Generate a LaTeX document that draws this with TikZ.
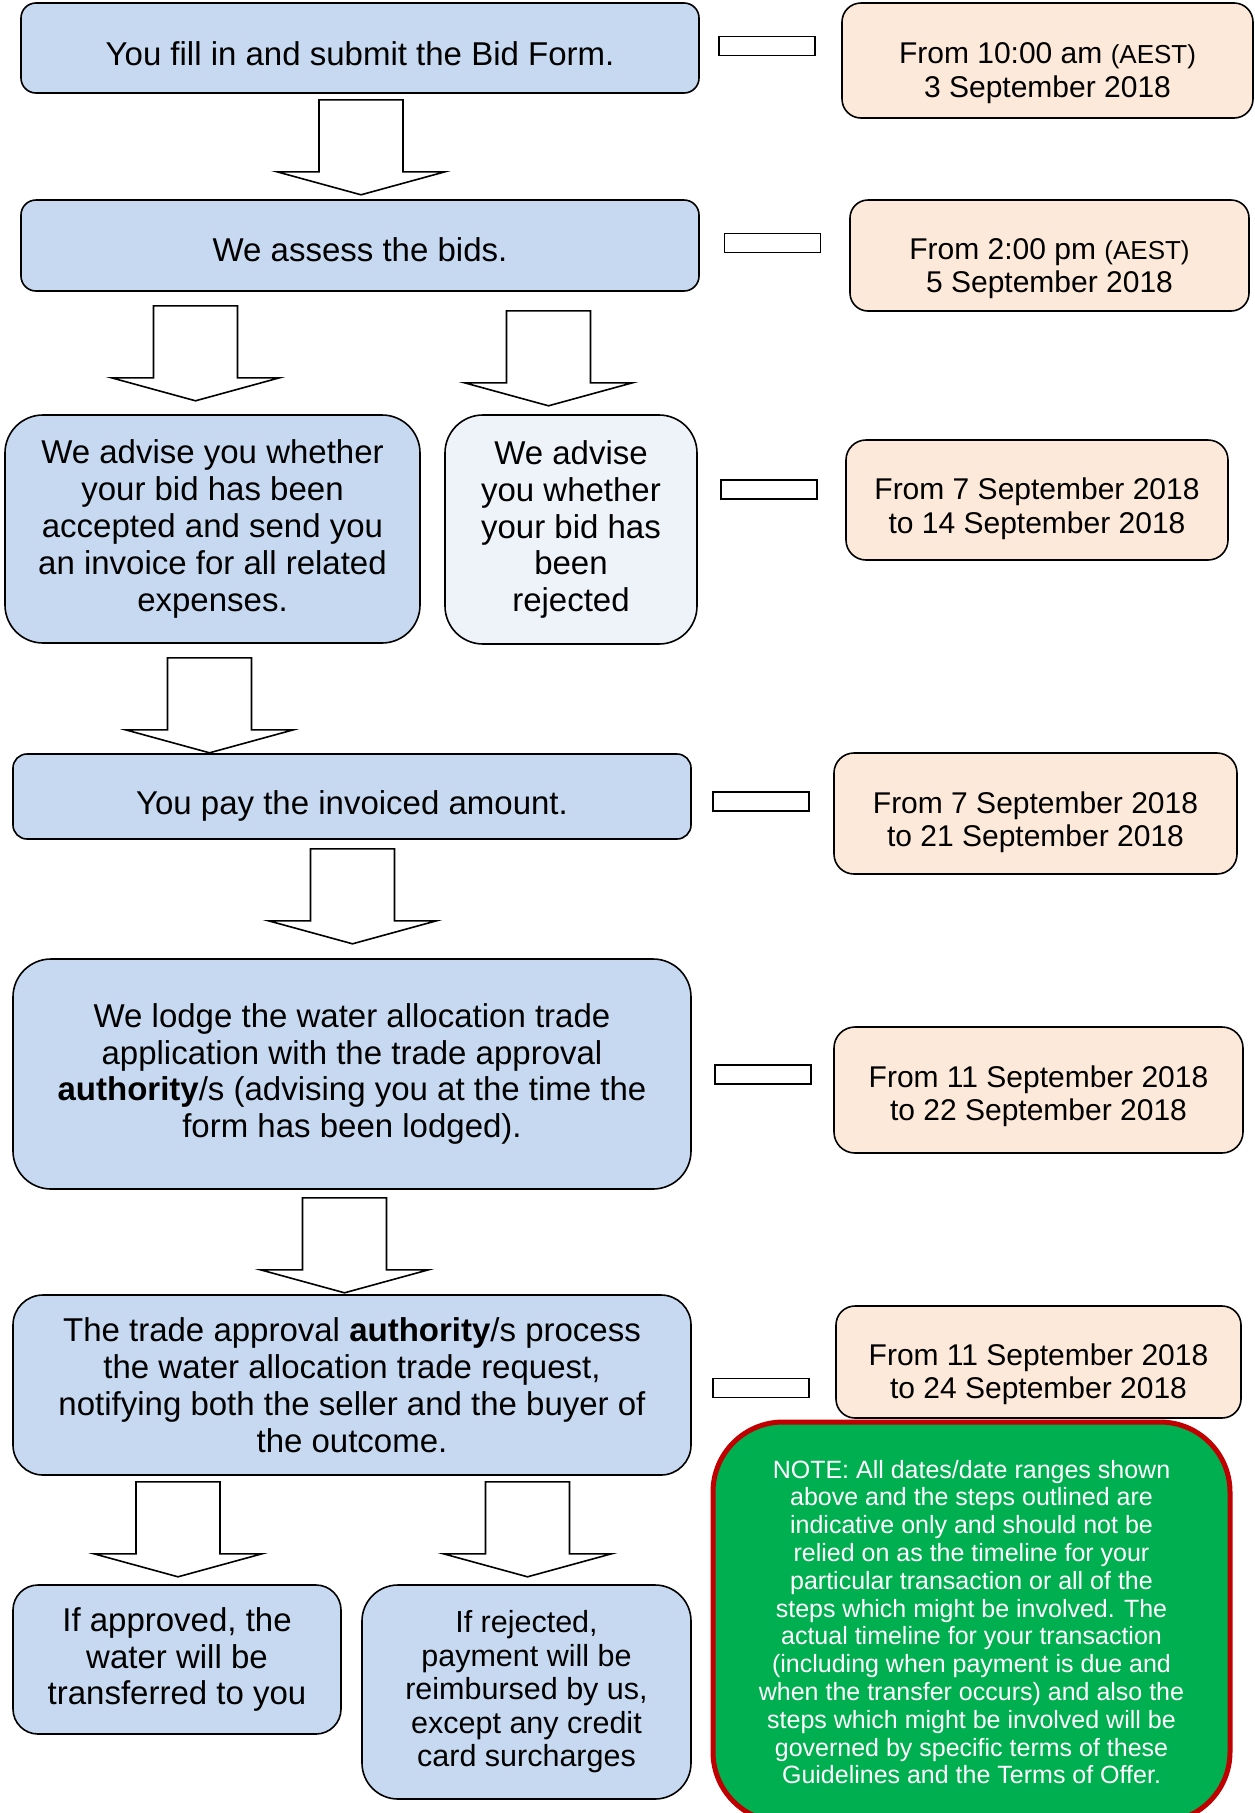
\documentclass[tikz,border=0pt]{standalone}
\usepackage{fontspec}
\setmainfont{Liberation Sans}
\usetikzlibrary{calc}
\definecolor{stepblue}{HTML}{C6D9F0}
\definecolor{stepbluepale}{HTML}{EEF3FA}
\definecolor{datepeach}{HTML}{FDE9D9}
\definecolor{notegreen}{HTML}{00B050}
\definecolor{notered}{HTML}{C00000}
\newcommand\shiftdown[2]{\raisebox{-#1}[\height][\depth]{#2}}
\newcommand\aest{{\fontsize{26}{33.5}\selectfont(AEST)}}
\begin{document}
\begin{tikzpicture}[x=1pt,y=-1pt,
stepbox/.style={draw=black,line width=1.6pt,fill=stepblue,align=center,inner sep=0pt,font=\fontsize{33}{36.8}\selectfont},
datebox/.style={draw=black,line width=1.6pt,fill=datepeach,align=center,inner sep=0pt,font=\fontsize{30}{33.5}\selectfont},
tickbox/.style={draw=black,line width=1.6pt,fill=white,minimum width=96pt,minimum height=19pt,inner sep=0pt},
dnarrow/.pic={\draw[line width=1.6pt,fill=white,line join=miter] (-42,0) -- (42,0) -- (42,72) -- (84,72) -- (0,95) -- (-84,72) -- (-42,72) -- cycle;}]
\useasboundingbox (0,0) rectangle (1255,1813);
\clip (0,0) rectangle (1255,1813);

\node[stepbox,minimum width=678pt,minimum height=90pt,rounded corners=15pt] (bidform) at (360,48) {\shiftdown{5.8pt}{You fill in and submit the Bid Form.}};
\node[stepbox,minimum width=678pt,minimum height=91pt,rounded corners=15pt] (assess) at (360,245.5) {\shiftdown{4.6pt}{We assess the bids.}};
\node[stepbox,minimum width=415pt,minimum height=228pt,rounded corners=38pt] (accepted) at (212.5,529) {We advise you whether\\your bid has been\\accepted and send you\\an invoice for all related\\expenses.};
\node[stepbox,fill=stepbluepale,minimum width=252pt,minimum height=229pt,rounded corners=38pt] (rejected) at (571,529.5) {We advise\\you whether\\your bid has\\been\\rejected};
\node[stepbox,minimum width=678pt,minimum height=85pt,rounded corners=14pt] (payinv) at (352,796.5) {\shiftdown{9.3pt}{You pay the invoiced amount.}};
\node[stepbox,minimum width=678pt,minimum height=230pt,rounded corners=38pt] (lodge) at (352,1074) {We lodge the water allocation trade\\application with the trade approval\\\textbf{authority}/s (advising you at the time the\\form has been lodged).};
\node[stepbox,minimum width=678pt,minimum height=180pt,rounded corners=30pt] (process) at (352,1385) {The trade approval \textbf{authority}/s process\\the water allocation trade request,\\notifying both the seller and the buyer of\\the outcome.};
\node[stepbox,minimum width=328pt,minimum height=149pt,rounded corners=25pt] (approved) at (177,1659.5) {If approved, the\\water will be\\transferred to you};
\node[stepbox,minimum width=329pt,minimum height=214pt,rounded corners=36pt,font=\fontsize{30.5}{33.5}\selectfont] (refund) at (526.5,1692) {If rejected,\\payment will be\\reimbursed by us,\\except any credit\\card surcharges};

\node[datebox,minimum width=411pt,minimum height=115pt,rounded corners=19pt] (date1) at (1047.5,60.5) {\shiftdown{12.7pt}{From 10:00 am \aest}\\\shiftdown{12.7pt}{3 September 2018}};
\node[datebox,minimum width=399pt,minimum height=111pt,rounded corners=18pt] (date2) at (1049.5,255.5) {\shiftdown{13.3pt}{From 2:00 pm \aest}\\\shiftdown{13.3pt}{5 September 2018}};
\node[datebox,minimum width=382pt,minimum height=120pt,rounded corners=20pt] (date3) at (1037,500) {\shiftdown{8.7pt}{From 7 September 2018}\\\shiftdown{8.7pt}{to 14 September 2018}};
\node[datebox,minimum width=403pt,minimum height=121pt,rounded corners=20pt] (date4) at (1035.5,813.5) {\shiftdown{8.7pt}{From 7 September 2018}\\\shiftdown{8.7pt}{to 21 September 2018}};
\node[datebox,minimum width=409pt,minimum height=126pt,rounded corners=21pt] (date5) at (1038.5,1090) {\shiftdown{6.4pt}{From 11 September 2018}\\\shiftdown{6.4pt}{to 22 September 2018}};
\node[datebox,minimum width=405pt,minimum height=112pt,rounded corners=19pt] (date6) at (1038.5,1362) {\shiftdown{12.1pt}{From 11 September 2018}\\\shiftdown{12.1pt}{to 24 September 2018}};

\node[tickbox] (tick1) at (767,46) {};
\node[tickbox] (tick2) at (772.5,243) {};
\node[tickbox] (tick3) at (769,489.5) {};
\node[tickbox] (tick4) at (761,801.5) {};
\node[tickbox] (tick5) at (763,1074.5) {};
\node[tickbox] (tick6) at (761,1388) {};

\node[draw=notered,line width=5pt,fill=notegreen,text=white,align=center,inner sep=0pt,minimum width=517pt,minimum height=400pt,rounded corners=70pt,font=\fontsize{25}{27.8}\selectfont] (note) at (971.5,1622) {NOTE: All dates/date ranges shown\\above and the steps outlined are\\indicative only and should not be\\relied on as the timeline for your\\particular transaction or all of the\\steps which might be involved. The\\actual timeline for your transaction\\(including when payment is due and\\when the transfer occurs) and also the\\steps which might be involved will be\\governed by specific terms of these\\Guidelines and the Terms of Offer.};

\pic at ($(bidform.south)+(1,6)$) {dnarrow};
\pic at ($(assess.south)+(-164.5,14)$) {dnarrow};
\pic at ($(assess.south)+(188.5,19)$) {dnarrow};
\pic at ($(accepted.south)+(-3,14)$) {dnarrow};
\pic at ($(payinv.south)+(0.5,9)$) {dnarrow};
\pic at ($(lodge.south)+(-7.5,8)$) {dnarrow};
\pic at ($(process.south)+(-174,6)$) {dnarrow};
\pic at ($(process.south)+(175.5,6)$) {dnarrow};
\end{tikzpicture}
\end{document}
